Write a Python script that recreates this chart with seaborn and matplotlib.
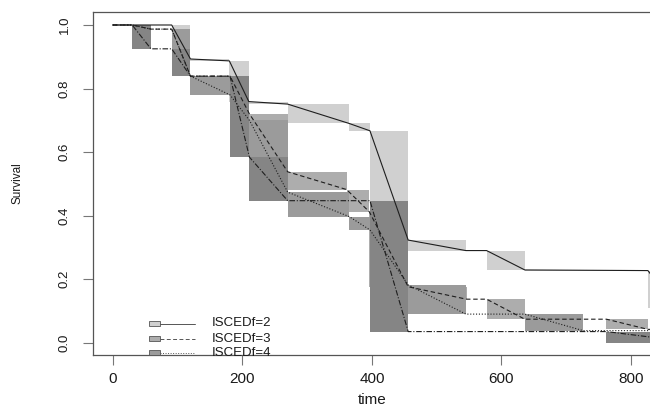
import numpy as np
import pandas as pd
import matplotlib
matplotlib.use("Agg")
import matplotlib.pyplot as plt
from matplotlib.patches import Rectangle
from matplotlib.lines import Line2D
import seaborn as sns

# ---- data ----
groups = ["ISCEDf=2", "ISCEDf=3", "ISCEDf=4", "ISCEDf=5"]

time_2 = [0, 91, 120, 180, 210, 270, 365, 397, 456, 545, 577, 636, 826, 870]
surv_2 = [1.0, 1.0, 0.893, 0.887, 0.759, 0.751, 0.690, 0.667, 0.323, 0.290, 0.290, 0.229, 0.227, 0.11]

time_3 = [0, 30, 59, 91, 120, 181, 211, 270, 361, 396, 456, 546, 577, 636, 762, 826, 870]
surv_3 = [1.0, 1.0, 0.987, 0.987, 0.839, 0.839, 0.72, 0.538, 0.482, 0.412, 0.176, 0.137, 0.137, 0.074, 0.074, 0.042, 0.042]

time_4 = [0, 30, 59, 91, 120, 181, 211, 270, 365, 397, 456, 545, 636, 726, 870]
surv_4 = [1.0, 1.0, 0.987, 0.987, 0.839, 0.78, 0.70, 0.474, 0.397, 0.355, 0.182, 0.090, 0.090, 0.038, 0.038]

time_5 = [0, 30, 59, 91, 120, 181, 211, 270, 397, 456, 762, 900]
surv_5 = [1.0, 1.0, 0.925, 0.925, 0.839, 0.839, 0.584, 0.447, 0.447, 0.035, 0.035, 0.0]

x_ticks = [0, 200, 400, 600, 800]
y_ticks = [0.0, 0.2, 0.4, 0.6, 0.8, 1.0]
y_tick_labels = ["0.0", "0.2", "0.4", "0.6", "0.8", "1.0"]

# ---- styles ----
box_colors = {"ISCEDf=2": "#d0d0d0", "ISCEDf=3": "#adadad",
              "ISCEDf=4": "#9b9b9b", "ISCEDf=5": "#858585"}
dash_styles = {"ISCEDf=2": "", "ISCEDf=3": (4, 2.5),
               "ISCEDf=4": (1, 1.6), "ISCEDf=5": (5, 1.6, 1, 1.6)}

sns.set_theme(style="white")
plt.rcParams["font.family"] = ["Liberation Sans", "DejaVu Sans"]

W, H = 650, 407
fig = plt.figure(figsize=(W / 100, H / 100), dpi=100)
left_px, right_px, top_px, bottom_px = 92.7, 650.0, 12.0, 355.0
ax = fig.add_axes([left_px / W, 1 - bottom_px / H,
                   (right_px - left_px) / W, (bottom_px - top_px) / H])

series = {
    "ISCEDf=2": (time_2, surv_2),
    "ISCEDf=3": (time_3, surv_3),
    "ISCEDf=4": (time_4, surv_4),
    "ISCEDf=5": (time_5, surv_5),
}

# shaded boxes for each drop interval, drawn group by group (opaque)
for g in groups:
    t, s = series[g]
    t0 = np.array(t[:-1]); t1 = np.array(t[1:])
    s0 = np.array(s[:-1]); s1 = np.array(s[1:])
    drop = s0 - s1 > 1e-9
    ax.bar(t0[drop], (s0 - s1)[drop], width=(t1 - t0)[drop], bottom=s1[drop],
           align="edge", color=box_colors[g], edgecolor="none",
           linewidth=0, zorder=1)

rows = []
for g in groups:
    t, s = series[g]
    for ti, si in zip(t, s):
        rows.append({"time": ti, "surv": si, "group": g})
df = pd.DataFrame(rows)

sns.lineplot(data=df, x="time", y="surv", hue="group", style="group",
             palette={g: "#1e1e1e" for g in groups}, dashes=dash_styles,
             estimator=None, sort=False, legend=False, linewidth=0.8,
             ax=ax, zorder=3)

ax.set_xlim(-30.9, 829.2)
ax.set_ylim(-0.0387, 1.0409)
ax.set_xticks(x_ticks)
ax.set_xticklabels([str(v) for v in x_ticks])
ax.set_yticks(y_ticks)
ax.set_yticklabels(y_tick_labels, rotation=90, va="center")
ax.set_xlabel("")
ax.set_ylabel("")
ax.tick_params(axis="both", which="major", direction="out", length=7,
               width=0.8, color="#777777", labelcolor="#1a1a1a",
               bottom=True, left=True)
ax.tick_params(axis="x", labelsize=11, pad=5)
ax.tick_params(axis="y", labelsize=9.5, pad=9)
for sp in ["left", "bottom", "top"]:
    ax.spines[sp].set_color("#555555")
    ax.spines[sp].set_linewidth(0.9)
ax.spines["right"].set_visible(False)

fig.text(17.5 / W, 1 - 183 / H, "Survival", rotation=90, ha="center",
         va="center", fontsize=8.5, color="#1a1a1a")
fig.text(372 / W, 1 - 400 / H, "time", ha="center", va="center",
         fontsize=11, color="#1a1a1a")

# legend (R style: box + line + label), last entry cut by the axis
legend_rows = [323.5, 338.5, 352.5]
for g, yy in zip(groups[:3], legend_rows):
    fig.add_artist(Rectangle((149.3 / W, 1 - (yy + 2.8) / H), 10.7 / W, 5.6 / H,
                             transform=fig.transFigure, facecolor=box_colors[g],
                             edgecolor="#555555", linewidth=0.6, zorder=5))
    ls = "-" if dash_styles[g] == "" else (0, dash_styles[g])
    fig.add_artist(Line2D([160 / W, 195 / W], [1 - yy / H, 1 - yy / H],
                          transform=fig.transFigure, color="#555555",
                          linewidth=0.7, linestyle=ls, zorder=5))
    fig.text(211.7 / W, 1 - yy / H, g, ha="left", va="center",
             fontsize=9.5, color="#1a1a1a", zorder=5)

fig.savefig("out.png", dpi=100)
